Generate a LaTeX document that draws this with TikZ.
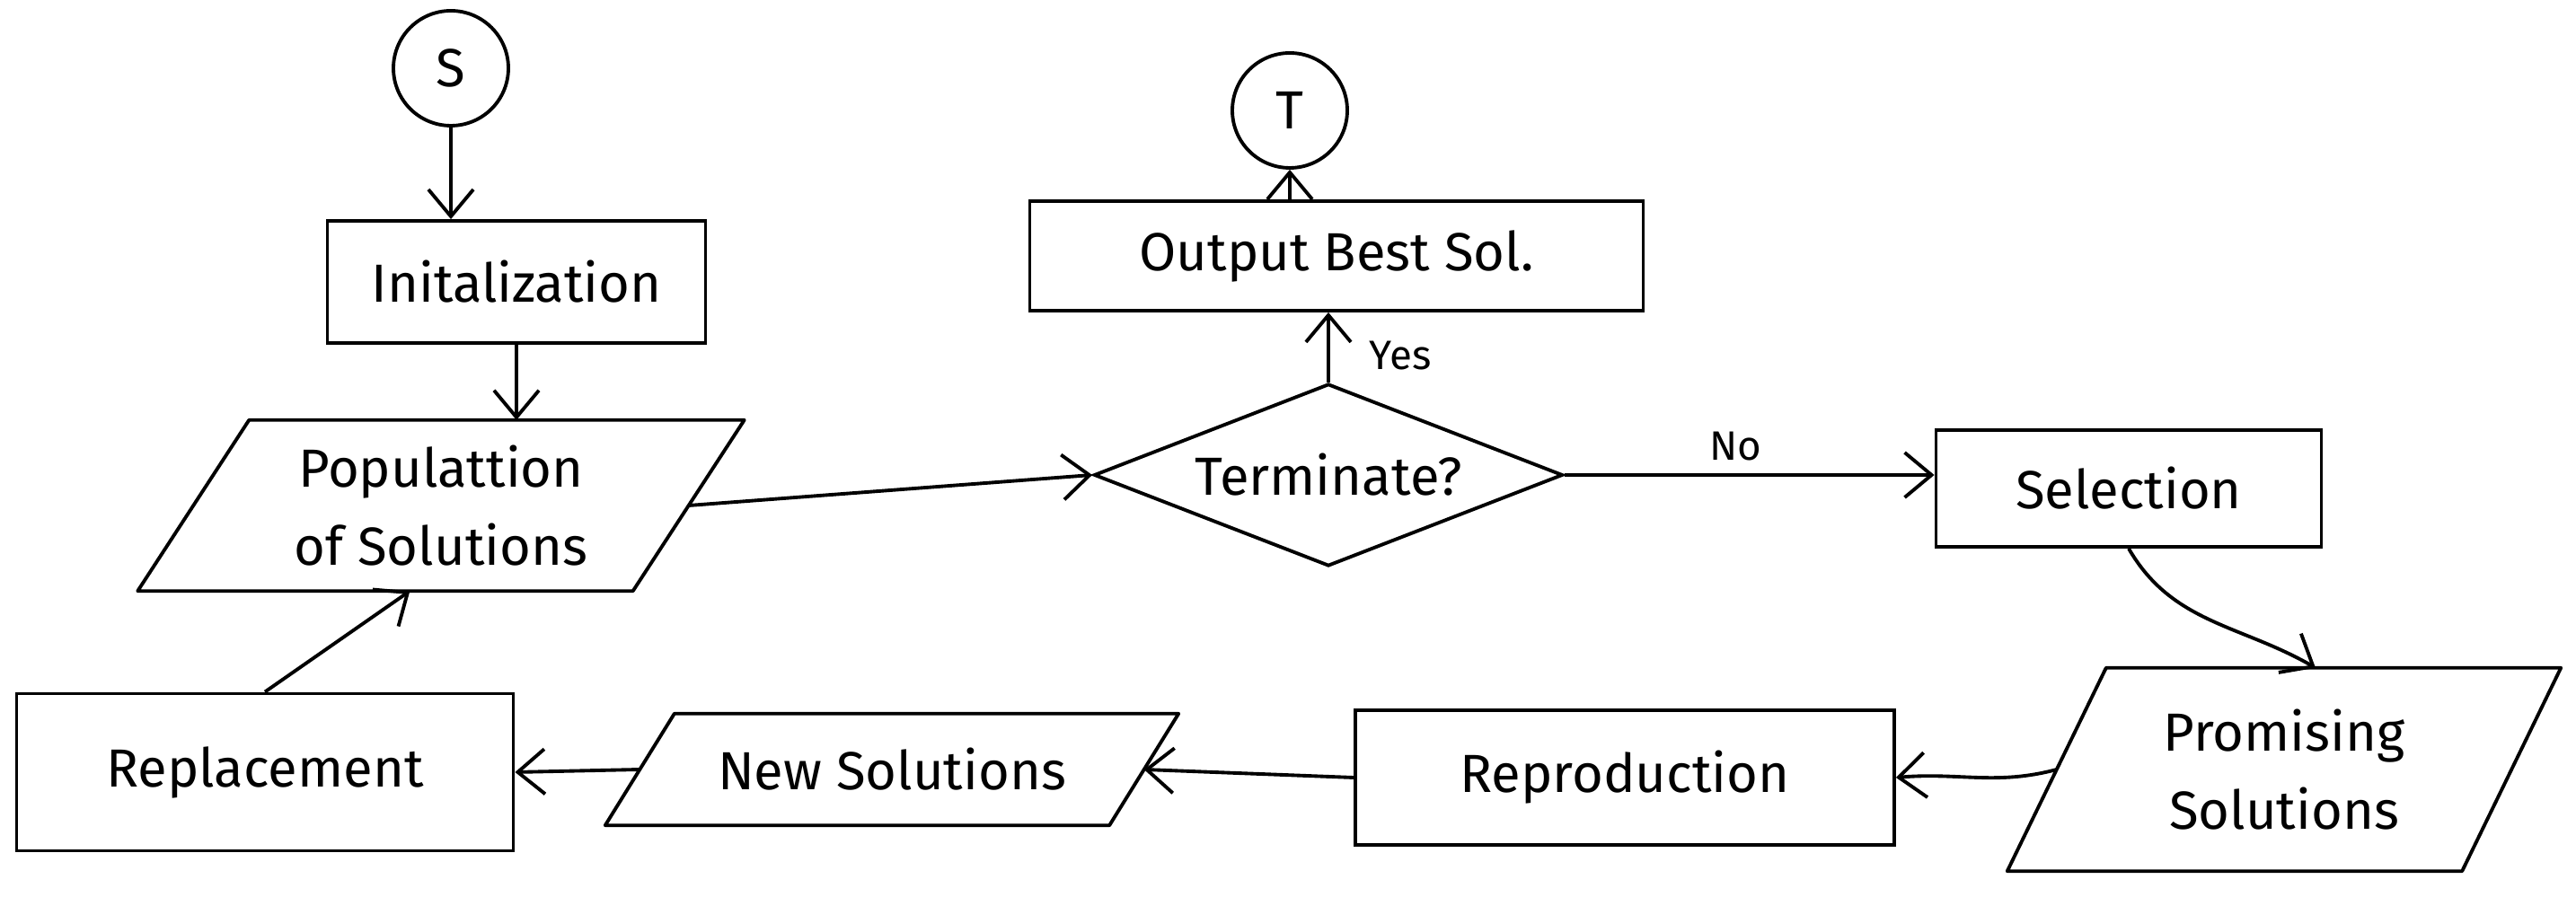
\documentclass[tikz,border=0pt]{standalone}
\usepackage{fontspec}
\setmainfont{Fira Sans}
\usetikzlibrary{shapes.geometric,arrows.meta}
\newcommand{\handfont}{\fontsize{17}{25}\selectfont}
\newcommand{\lblfont}{\fontsize{13}{16}\selectfont}
\tikzset{
  block/.style={
    rectangle, draw, line width=1.1pt, text centered, inner sep=2pt
  },
  io/.style={
    rectangle, align=center, inner sep=2pt
  },
  ioedge/.style={line width=1.1pt, line join=round},
  decision/.style={
    diamond, draw, line width=1.1pt, inner sep=0pt, aspect=2.57
  },
  terminal/.style={
    circle, draw, line width=1.1pt, minimum size=1.28cm, inner sep=0pt
  },
  lbl/.style={font=\lblfont},
  arrow/.style={-{Straight Barb[length=3mm,width=5mm]}, line width=1.1pt}
}
\begin{document}
\begin{tikzpicture}[font=\handfont]
  \useasboundingbox (0,0) rectangle (28.68,9.99);
  % Upper row
  \node[terminal] (start) at (5.02,9.23) {S};
  \node[block, minimum width=4.21cm, minimum height=1.36cm] (init) at (5.75,6.85) {Initalization};
  \node[io, minimum width=5.5cm, minimum height=1.89cm] (pop) at (4.91,4.36) {Populattion\\of Solutions};
  \node[decision, minimum width=5.22cm, minimum height=2.03cm] (term) at (14.79,4.70) {Terminate?};
  \node[block, minimum width=6.83cm, minimum height=1.22cm] (out) at (14.88,7.14) {Output Best Sol.};
  \node[terminal] (stop) at (14.36,8.76) {T};
  \node[block, minimum width=4.29cm, minimum height=1.3cm] (sel) at (23.70,4.55) {Selection};
  % Lower row
  \node[io, minimum width=5.05cm, minimum height=2.25cm] (prom) at (25.43,1.42) {Promising\\Solutions};
  \node[block, minimum width=6.0cm, minimum height=1.5cm] (repro) at (18.09,1.33) {Reproduction};
  \node[io, minimum width=5.6cm, minimum height=1.23cm] (newsol) at (9.93,1.42) {New Solutions};
  \node[block, minimum width=5.53cm, minimum height=1.75cm] (repl) at (2.95,1.39) {Replacement};
  % Slanted outlines of the data boxes
  \foreach \n/\s in {pop/0.62,prom/0.55,newsol/0.385} {
    \draw[ioedge] ([xshift=\s cm]\n.north west) -- ([xshift=\s cm]\n.north east)
      -- ([xshift=-\s cm]\n.south east) -- ([xshift=-\s cm]\n.south west) -- cycle;
  }
  % Branch labels
  \node[lbl] (yes) at (15.59,6.03) {Yes};
  \node[lbl] (no) at (19.32,5.02) {No};
  % Connectors
  \draw[arrow] (start.south) -- (start.south |- init.north);
  \draw[arrow] (init.south) -- (init.south |- pop.north);
  \draw[arrow] (pop.east) -- (term.west);
  \draw[arrow] (term.north) -- (term.north |- out.south);
  \draw[arrow] (out.north -| stop) -- (stop.south);
  \draw[arrow] (term.east) -- (term.east -| sel.west);
  \draw[arrow] (sel.south) to[out=-60,in=150] ([xshift=0.35cm]prom.north);
  \draw[arrow] (prom.west) to[out=195,in=5] (repro.east);
  \draw[arrow] (repro.west) -- (newsol.east);
  \draw[arrow] (newsol.west) -- (repl.east);
  \draw[arrow] (repl.north) -- (pop.250);
\end{tikzpicture}
\end{document}
